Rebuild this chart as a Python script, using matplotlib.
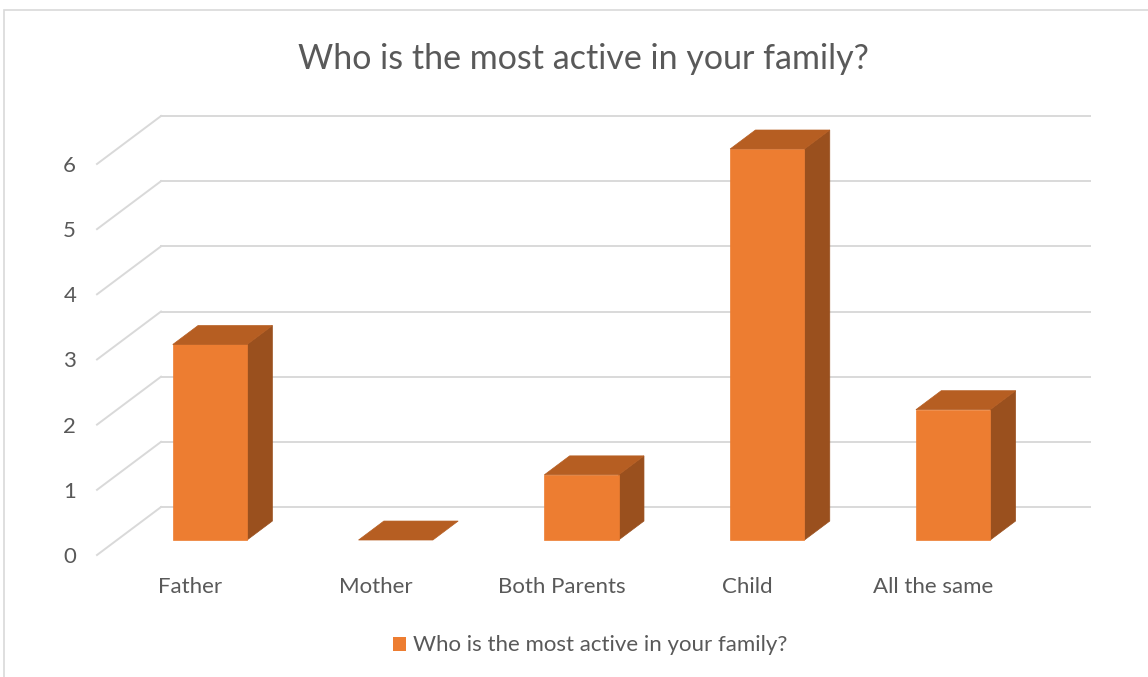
import matplotlib.pyplot as plt
from matplotlib.patches import Polygon, Rectangle
import numpy as np

plt.rcParams['font.family'] = ['Lato', 'DejaVu Sans']

categories = ['Father', 'Mother', 'Both Parents', 'Child', 'All the same']
counts = [3, 0, 1, 6, 2]
series_name = 'Who is the most active in your family?'
y_ticks = [0, 1, 2, 3, 4, 5, 6]

front_col = '#ED7D31'
top_col = '#B65E22'
side_col = '#9A501E'
grid_col = '#D9D9D9'
text_col = '#595959'

# 3d look: how far the back wall sits from the front, in data units
depth_dx = 0.3446
depth_dy = 0.736
bar_front = 0.3125   # bar faces as a fraction of the full depth
bar_back = 0.708
half_w = 0.2

fig = plt.figure(figsize=(11.48, 6.77), dpi=100)
fig.patches.append(Rectangle((4 / 1148, -0.1), 1.2, 1 - 10 / 677 + 0.1,
                             transform=fig.transFigure, fill=False,
                             edgecolor=grid_col, linewidth=1.2))

ax = fig.add_axes([97 / 1148, 122 / 677, 993 / 1148, 439 / 677])
ax.set_xlim(-0.5, 4.5 + depth_dx)
ax.set_ylim(0, max(y_ticks) + depth_dy)
for s in ax.spines.values():
    s.set_visible(False)

# walls: diagonal on the side, flat on the back
x_left = -0.5
x_right = len(categories) - 0.5
for v in y_ticks:
    ax.plot([x_left, x_left + depth_dx], [v, v + depth_dy], color=grid_col,
            lw=1.4, zorder=1, clip_on=False)
    ax.plot([x_left + depth_dx, x_right + depth_dx], [v + depth_dy, v + depth_dy],
            color=grid_col, lw=1.4, zorder=1, clip_on=False)

# bars as three faces each
for i, v in enumerate(counts):
    fx0 = i - half_w + bar_front * depth_dx
    fx1 = i + half_w + bar_front * depth_dx
    fy = bar_front * depth_dy
    bx0 = i - half_w + bar_back * depth_dx
    bx1 = i + half_w + bar_back * depth_dx
    by = bar_back * depth_dy
    if v > 0:
        ax.add_patch(Polygon([(fx1, fy), (bx1, by), (bx1, v + by), (fx1, v + fy)],
                             closed=True, facecolor=side_col, edgecolor=side_col,
                             lw=0.5, zorder=3))
        ax.add_patch(Polygon([(fx0, fy), (fx1, fy), (fx1, v + fy), (fx0, v + fy)],
                             closed=True, facecolor=front_col, edgecolor=front_col,
                             lw=0.5, zorder=4))
    ax.add_patch(Polygon([(fx0, v + fy), (fx1, v + fy), (bx1, v + by), (bx0, v + by)],
                         closed=True, facecolor=top_col, edgecolor=top_col,
                         lw=0.5, zorder=4))

ax.set_yticks(y_ticks)
ax.set_yticklabels([str(t) for t in y_ticks])
ax.set_xticks(range(len(categories)))
ax.set_xticklabels(categories)
ax.tick_params(axis='y', length=0, pad=15, labelsize=16, labelcolor=text_col)
ax.tick_params(axis='x', length=0, pad=16, labelsize=16, labelcolor=text_col)

fig.text(0.508, 1 - 59 / 677, series_name, ha='center', va='center',
         fontsize=24.5, color=text_col)

# legend
fig.patches.append(Rectangle((393 / 1148, 1 - 651 / 677), 13 / 1148, 14 / 677,
                             transform=fig.transFigure, facecolor=front_col,
                             edgecolor='none'))
fig.text(413 / 1148, 1 - 645 / 677, series_name, ha='left', va='center',
         fontsize=16, color=text_col)

fig.savefig('out.png', dpi=100)
